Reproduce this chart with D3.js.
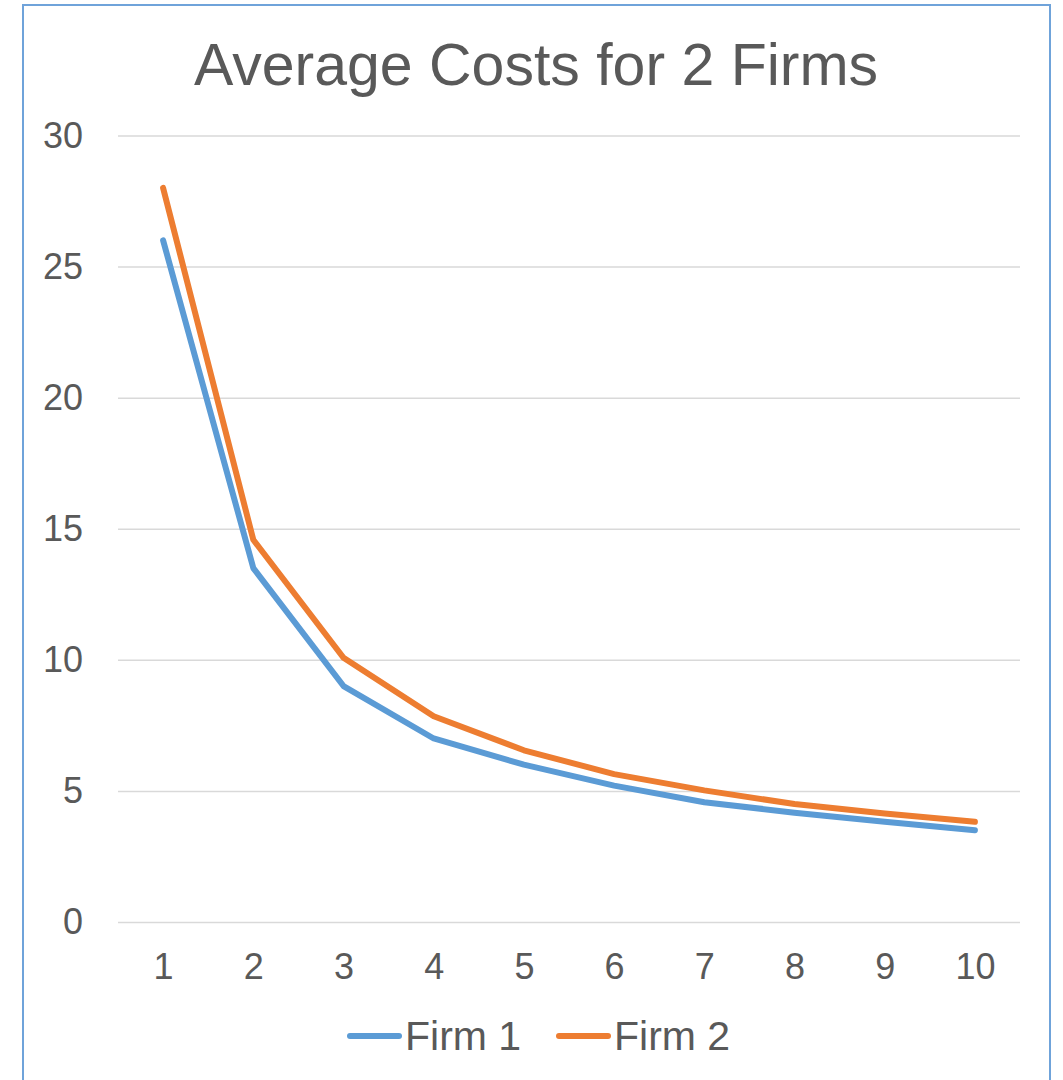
<!DOCTYPE html>
<html>
<head>
<meta charset="utf-8">
<script src="https://cdn.jsdelivr.net/npm/d3@7"></script>
<style>
  html, body { margin: 0; padding: 0; background: #fff; }
  svg { display: block; }
  text { font-family: "Liberation Sans", Arial, sans-serif; fill: #595959; }
</style>
</head>
<body>
<svg id="chart" width="1063" height="1080"></svg>
<script>
const title = "Average Costs for 2 Firms";
const categories = ["1", "2", "3", "4", "5", "6", "7", "8", "9", "10"];
const firm1 = [26, 13.5, 9, 7, 6, 5.2, 4.57, 4.17, 3.82, 3.5];
const firm2 = [28, 14.58, 10.08, 7.85, 6.55, 5.64, 5.02, 4.5, 4.14, 3.82];
const yTicks = [0, 5, 10, 15, 20, 25, 30];
const seriesNames = ["Firm 1", "Firm 2"];
const colors = ["#5B9BD5", "#ED7D31"];

const svg = d3.select("#chart");

// chart border
svg.append("rect")
  .attr("x", 23).attr("y", 5)
  .attr("width", 1027).attr("height", 1090)
  .attr("fill", "none")
  .attr("stroke", "#6FA3DA")
  .attr("stroke-width", 2);

const x = d3.scalePoint().domain(categories).range([118, 1020]).padding(0.5);
const y = d3.scaleLinear().domain([0, 30]).range([922, 135.5]);

// title
svg.append("text")
  .attr("x", 536).attr("y", 85)
  .attr("text-anchor", "middle")
  .style("font-size", "59px")
  .text(title);

// gridlines + y axis
const yAxis = d3.axisLeft(y).tickValues(yTicks).tickSize(-(1020 - 118)).tickPadding(35);
const gy = svg.append("g").attr("transform", "translate(118,0)").call(yAxis);
gy.select(".domain").remove();
gy.selectAll(".tick line").attr("stroke", "#D9D9D9").attr("stroke-width", 1.5);
gy.selectAll(".tick text")
  .style("font-size", "36px")
  .style("font-family", '"Liberation Sans", Arial, sans-serif')
  .attr("fill", "#595959");

// x axis labels
const xAxis = d3.axisBottom(x).tickSize(0).tickPadding(31);
const gx = svg.append("g").attr("transform", "translate(0,922)").call(xAxis);
gx.select(".domain").remove();
gx.selectAll(".tick text")
  .style("font-size", "36px")
  .style("font-family", '"Liberation Sans", Arial, sans-serif')
  .attr("fill", "#595959");

// lines
const line = d3.line()
  .x((d, i) => x(categories[i]))
  .y(d => y(d));

[firm1, firm2].forEach((s, k) => {
  svg.append("path")
    .datum(s)
    .attr("d", line)
    .attr("fill", "none")
    .attr("stroke", colors[k])
    .attr("stroke-width", 6)
    .attr("stroke-linecap", "round")
    .attr("stroke-linejoin", "round");
});

// legend
const legendItems = [
  { name: seriesNames[0], color: colors[0], lx: 347, tx: 405 },
  { name: seriesNames[1], color: colors[1], lx: 556, tx: 614 }
];
legendItems.forEach(it => {
  svg.append("line")
    .attr("x1", it.lx + 3).attr("x2", it.lx + 52)
    .attr("y1", 1036).attr("y2", 1036)
    .attr("stroke", it.color)
    .attr("stroke-width", 6)
    .attr("stroke-linecap", "round");
  svg.append("text")
    .attr("x", it.tx).attr("y", 1050)
    .style("font-size", "41px")
    .text(it.name);
});
</script>
</body>
</html>
